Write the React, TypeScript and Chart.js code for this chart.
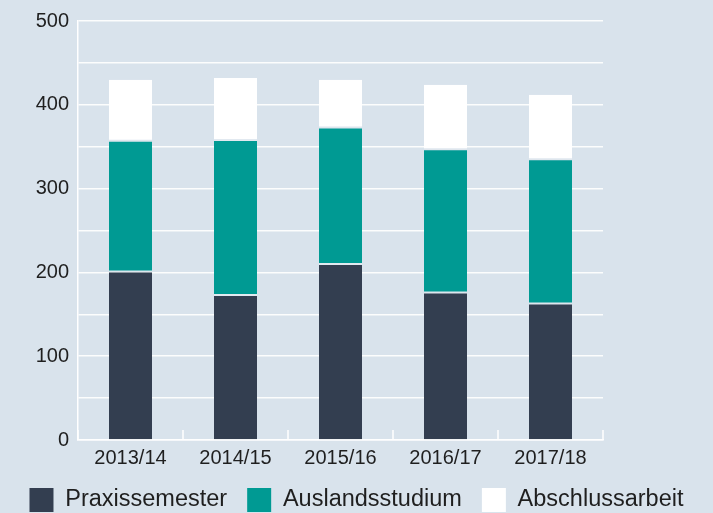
import { useEffect, useRef } from 'react';
import { Chart, registerables } from 'chart.js';

Chart.register(...registerables);

const categories = ['2013/14', '2014/15', '2015/16', '2016/17', '2017/18'];
const praxissemester = [201, 173, 210, 176, 163];
const auslandsstudium = [156, 185, 163, 171, 172];
const abschlussarbeit = [73, 74, 57, 77, 77];
const seriesNames = ['Praxissemester', 'Auslandsstudium', 'Abschlussarbeit'];
const yMin = 0;
const yMax = 500;
const gridStep = 50;
const labelStep = 100;

const BG = '#d9e3ec';
const GAP = '#e2e9f0';
const TEXT = '#1f1f1f';
const FONT = "'Liberation Sans', Arial, Helvetica, sans-serif";

const boundaryTicks = {
  id: 'boundaryTicks',
  afterDatasetsDraw(chart: any) {
    const x = chart.scales.x;
    const { ctx, chartArea } = chart;
    const n = x.getLabels().length;
    ctx.save();
    ctx.strokeStyle = '#ffffff';
    ctx.lineWidth = 1.5;
    for (let i = 0; i <= n; i++) {
      const px = x.getPixelForValue(i - 0.5);
      ctx.beginPath();
      ctx.moveTo(px, chartArea.bottom);
      ctx.lineTo(px, chartArea.bottom - 10);
      ctx.stroke();
    }
    ctx.restore();
  },
};

export default function App() {
  const ref = useRef<HTMLCanvasElement | null>(null);

  useEffect(() => {
    document.body.style.margin = '0';
    document.body.style.background = BG;
    Chart.defaults.font.family = FONT;
    const chart = new Chart(ref.current as HTMLCanvasElement, {
      type: 'bar',
      data: {
        labels: categories,
        datasets: [
          {
            label: seriesNames[0],
            data: praxissemester,
            backgroundColor: '#333e50',
            borderColor: GAP,
            borderWidth: { top: 1, left: 0, right: 0, bottom: 0 },
            borderSkipped: false,
          },
          {
            label: seriesNames[1],
            data: auslandsstudium,
            backgroundColor: '#009a93',
            borderColor: GAP,
            borderWidth: { top: 1, left: 0, right: 0, bottom: 1 },
            borderSkipped: false,
          },
          {
            label: seriesNames[2],
            data: abschlussarbeit,
            backgroundColor: '#ffffff',
            borderColor: GAP,
            borderWidth: { top: 0, left: 0, right: 0, bottom: 1 },
            borderSkipped: false,
          },
        ],
      },
      options: {
        responsive: false,
        animation: false,
        devicePixelRatio: 1,
        datasets: { bar: { categoryPercentage: 1, barPercentage: 0.41 } },
        layout: { padding: { top: 20, left: 0, right: 0, bottom: 0 } },
        plugins: {
          tooltip: { enabled: false },
          legend: {
            position: 'bottom',
            maxHeight: 45,
            labels: {
              boxWidth: 24,
              boxHeight: 24,
              padding: 20,
              color: TEXT,
              font: { size: 23.5, family: FONT },
              generateLabels: (c: any) =>
                (Chart.defaults.plugins.legend.labels as any)
                  .generateLabels(c)
                  .map((l: any) => ({ ...l, lineWidth: 0 })),
            },
          },
        },
        scales: {
          x: {
            stacked: true,
            offset: true,
            afterFit: (s: any) => {
              s.height = 28;
            },
            grid: { display: false, drawTicks: false },
            border: { display: true, color: '#ffffff', width: 1.5 },
            ticks: { color: TEXT, font: { size: 20, family: FONT }, padding: 6 },
          },
          y: {
            stacked: true,
            min: yMin,
            max: yMax,
            afterFit: (s: any) => {
              s.width = 78;
            },
            grid: { color: 'rgba(255,255,255,0.9)', lineWidth: 1.5, drawTicks: false },
            border: { display: true, color: '#ffffff', width: 1.5 },
            ticks: {
              stepSize: gridStep,
              color: TEXT,
              padding: 9,
              font: { size: 20, family: FONT },
              callback: (v: any) => (Number(v) % labelStep === 0 ? String(v) : ''),
            },
          },
          y2: {
            position: 'right',
            display: true,
            afterFit: (s: any) => {
              s.width = 110;
            },
            grid: { display: false, drawTicks: false },
            border: { display: false },
            ticks: { display: false },
          },
        },
      },
      plugins: [boundaryTicks],
    } as any);
    return () => chart.destroy();
  }, []);

  return (
    <div style={{ position: 'fixed', left: 0, top: 0, width: 713, height: 513, background: BG }}>
      <canvas ref={ref} width={713} height={513} />
    </div>
  );
}
